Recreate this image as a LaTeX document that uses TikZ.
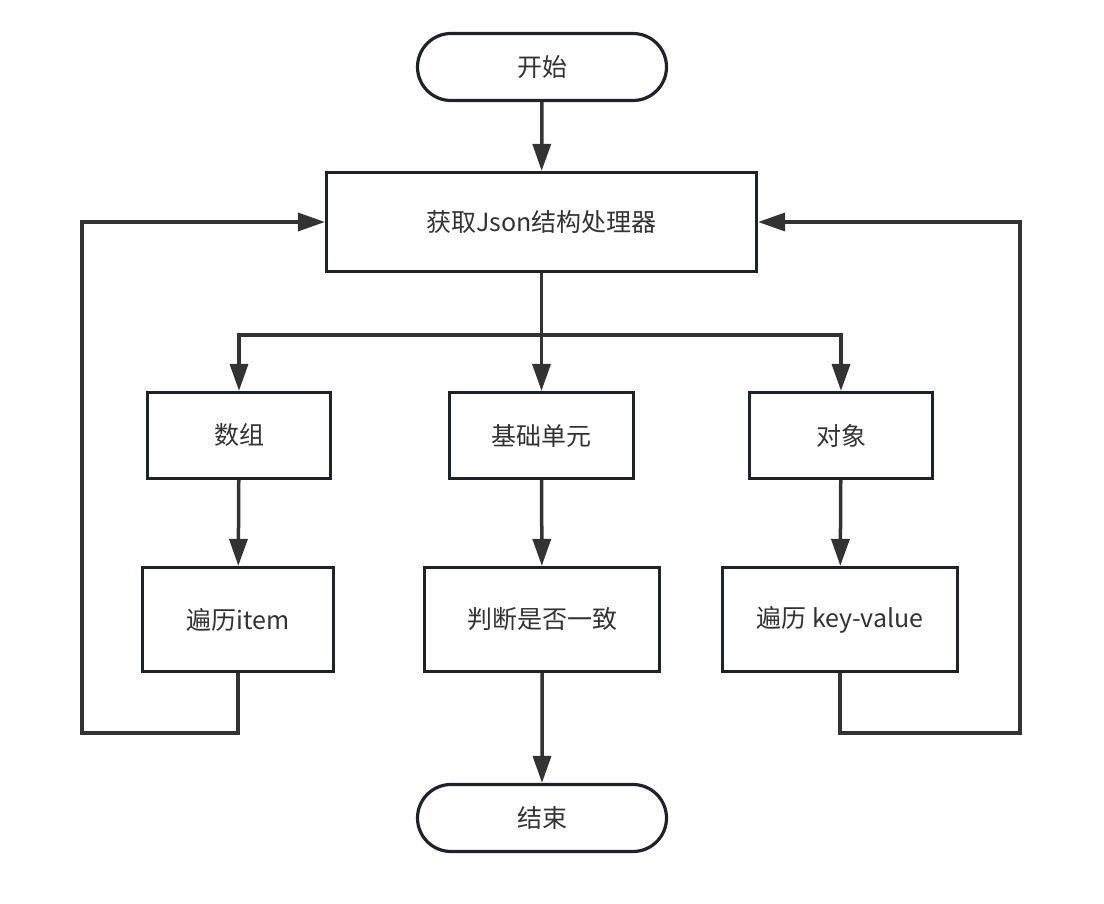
\documentclass[tikz,border=0pt]{standalone}
\usepackage{fontspec}
\setmainfont{Noto Sans CJK SC}
\usetikzlibrary{arrows.meta,shapes.misc}
\definecolor{boxc}{HTML}{1F2329}
\definecolor{linec}{HTML}{333333}
\definecolor{txtc}{HTML}{333333}
\tikzset{
  box/.style={draw=boxc,line width=3.2pt,fill=white,rectangle,minimum height=#1,inner sep=0pt,text=txtc,font=\fontsize{25}{29}\selectfont},
  term/.style={draw=boxc,line width=3.2pt,fill=white,rounded rectangle,minimum width=249pt,minimum height=67pt,inner sep=0pt,text=txtc,font=\fontsize{25}{29}\selectfont},
  conn/.style={draw=linec,line width=3.5pt,-{Triangle[width=18pt,length=27pt]}},
  plain/.style={draw=linec,line width=3.5pt},
}
\begin{document}
\begin{tikzpicture}[x=1pt,y=-1pt]
\useasboundingbox (0,0) rectangle (1104,904);
\node[term] (start) at (542,67) {开始};
\node[box=99pt,minimum width=430pt] (json) at (541.5,222) {获取Json结构处理器};
\node[box=86pt,minimum width=183pt] (arr) at (239,435.5) {数组};
\node[box=86pt,minimum width=184pt] (base) at (541.5,435.5) {基础单元};
\node[box=86pt,minimum width=183pt] (obj) at (841,435.5) {对象};
\node[box=104pt,minimum width=191pt] (item) at (238,619.5) {遍历item};
\node[box=104pt,minimum width=235pt] (judge) at (542,619.5) {判断是否一致};
\node[box=104pt,minimum width=235pt] (kv) at (840,619.5) {遍历 key-value};
\node[term] (end) at (542,818) {结束};
\coordinate (split) at (541.5,335);
\coordinate (lb) at (82,733);
\coordinate (rb) at (1020,733);

\draw[conn] (start) -- (json);
\draw[plain] (json.south) -- (split);
\draw[conn] (split) -- (base);
\draw[conn] (split) -| (arr);
\draw[conn] (split) -| (obj);
\draw[conn] (arr) -- (item);
\draw[conn] (base) -- (judge);
\draw[conn] (obj) -- (kv);
\draw[conn] (judge) -- (end);
\draw[conn] (item.south) |- (lb) |- (json.west);
\draw[conn] (kv.south) |- (rb) |- (json.east);
\end{tikzpicture}
\end{document}
